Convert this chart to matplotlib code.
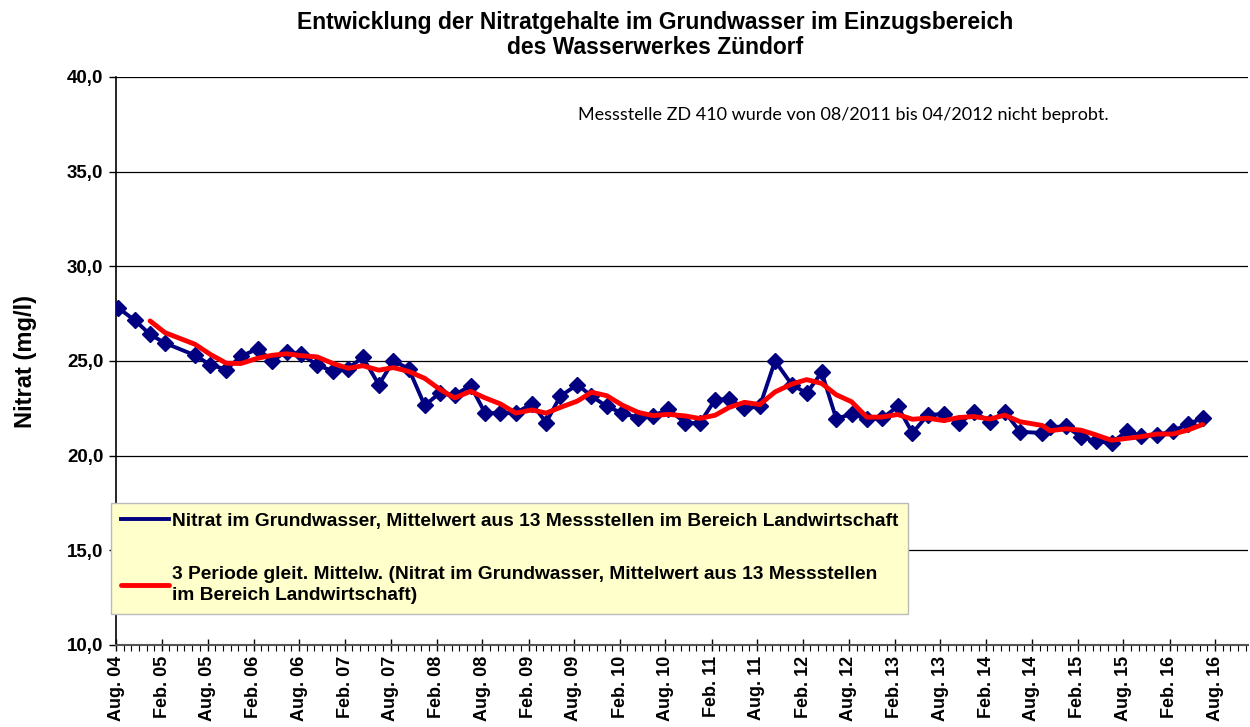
import matplotlib
matplotlib.use("Agg")
import matplotlib.pyplot as plt
import matplotlib.dates as mdates
import pandas as pd
import numpy as np

# Probenahmedaten (Mittelwert aus 13 Messstellen)
dates = [
    "2004-08-10", "2004-10-15", "2004-12-15", "2005-02-12", "2005-06-12",
    "2005-08-12", "2005-10-15", "2005-12-12", "2006-02-18", "2006-04-15",
    "2006-06-12", "2006-08-10", "2006-10-12", "2006-12-15", "2007-02-12",
    "2007-04-12", "2007-06-15", "2007-08-12", "2007-10-12", "2007-12-15",
    "2008-02-12", "2008-04-12", "2008-06-15", "2008-08-12", "2008-10-12",
    "2008-12-12", "2009-02-15", "2009-04-12", "2009-06-08", "2009-08-15",
    "2009-10-10", "2009-12-10", "2010-02-10", "2010-04-15", "2010-06-12",
    "2010-08-12", "2010-10-18", "2010-12-15", "2011-02-15", "2011-04-12",
    "2011-06-12", "2011-08-12", "2011-10-12", "2011-12-18", "2012-02-15",
    "2012-04-15", "2012-06-12", "2012-08-12", "2012-10-12", "2012-12-12",
    "2013-02-12", "2013-04-12", "2013-06-12", "2013-08-15", "2013-10-15",
    "2013-12-12", "2014-02-15", "2014-04-15", "2014-06-15", "2014-09-12",
    "2014-10-12", "2014-12-15", "2015-02-12", "2015-04-12", "2015-06-15",
    "2015-08-15", "2015-10-12", "2015-12-12", "2016-02-15", "2016-04-15",
    "2016-06-12",
]
nitrat = [
    27.8, 27.15, 26.4, 25.95, 25.3, 24.8, 24.55, 25.25, 25.65, 25.0,
    25.5, 25.35, 24.8, 24.45, 24.6, 25.2, 23.75, 25.0, 24.6, 22.65,
    23.3, 23.2, 23.7, 22.25, 22.25, 22.25, 22.75, 21.75, 23.15, 23.75,
    23.15, 22.6, 22.25, 22.0, 22.1, 22.45, 21.75, 21.7, 22.95, 23.0,
    22.5, 22.6, 25.0, 23.75, 23.3, 24.4, 21.95, 22.2, 21.95, 21.97,
    22.6, 21.2, 22.15, 22.2, 21.7, 22.3, 21.8, 22.32, 21.26, 21.2,
    21.5, 21.55, 21.0, 20.77, 20.67, 21.3, 21.05, 21.08, 21.3, 21.68,
    21.97,
]

label_blau = "Nitrat im Grundwasser, Mittelwert aus 13 Messstellen im Bereich Landwirtschaft"
label_rot = ("3 Periode gleit. Mittelw. (Nitrat im Grundwasser, Mittelwert aus 13 Messstellen\n"
             "im Bereich Landwirtschaft)")
titel = "Entwicklung der Nitratgehalte im Grundwasser im Einzugsbereich\ndes Wasserwerkes Zündorf"
hinweis = "Messstelle ZD 410 wurde von 08/2011 bis 04/2012 nicht beprobt."

plt.rcParams['font.family'] = ['Liberation Sans', 'DejaVu Sans']

df = pd.DataFrame({'datum': pd.to_datetime(dates), 'nitrat': nitrat})
# gleitender Mittelwert über 3 Perioden (wie in Excel)
df['mittel'] = df['nitrat'].rolling(3).mean()

fig = plt.figure(figsize=(12.5, 7.27), dpi=100)
ax = fig.add_axes([116 / 1250, 1 - 645 / 727, (1248 - 116) / 1250, (645 - 77) / 727])

ax.plot(df['datum'], df['nitrat'], color='#000080', linewidth=2.8,
        marker='D', markersize=8, label=label_blau, zorder=3)
ax.plot(df['datum'], df['mittel'], color='#FF0000', linewidth=3.5,
        label=label_rot, zorder=4, solid_capstyle='round')

ax.set_ylim(10, 40)
yticks = np.arange(10, 40.1, 5)
ax.set_yticks(yticks)
ax.set_yticklabels([f"{v:.1f}".replace('.', ',') for v in yticks],
                   fontsize=13.5, fontweight='bold')
ax.set_xlim(pd.Timestamp("2004-08-01"), pd.Timestamp("2016-12-10"))

major_ticks = pd.date_range("2004-08-01", "2016-08-01", freq="6MS")
ax.set_xticks(major_ticks)
ax.set_xticklabels([("Aug. " if d.month == 8 else "Feb. ") + d.strftime("%y") for d in major_ticks],
                   rotation=90, fontsize=13, fontweight='bold')
ax.xaxis.set_minor_locator(mdates.MonthLocator())

ax.tick_params(axis='x', which='major', direction='inout', length=8, width=1, pad=4)
ax.tick_params(axis='x', which='minor', direction='out', length=4, width=0.8)
ax.tick_params(axis='y', which='major', direction='out', length=5, width=1, pad=4)

ax.grid(axis='y', color='black', linewidth=0.9)
ax.set_axisbelow(True)
for s in ['top', 'right']:
    ax.spines[s].set_visible(False)
ax.spines['left'].set_linewidth(1.2)
ax.spines['bottom'].set_linewidth(1.5)
ax.spines['bottom'].set_color('#555555')

ax.set_ylabel("Nitrat (mg/l)", fontsize=17, fontweight='bold', labelpad=22)

fig.text(655 / 1250, 1 - 35 / 727, titel, ha='center', va='center',
         fontsize=16.5, fontweight='bold', linespacing=1.15)
fig.text(578 / 1250, 1 - 115 / 727, hinweis,
         fontsize=13, family=['Lato', 'DejaVu Sans'], va='center', ha='left')

leg = ax.legend(loc='upper left', bbox_to_anchor=(-0.0044, 0.25), borderaxespad=0,
                prop={'weight': 'bold', 'size': 13.8},
                handlelength=2.5, handletextpad=0.2, labelspacing=1.9,
                borderpad=0.5, fancybox=False, framealpha=1)
leg.get_frame().set_facecolor('#FFFFCC')
leg.get_frame().set_edgecolor('#BBBBBB')
for h in leg.get_lines():
    h.set_marker('')
leg.get_lines()[0].set_linewidth(2.8)
for t in leg.get_texts():
    t.set_linespacing(1.3)

fig.savefig("out.png", dpi=100)
